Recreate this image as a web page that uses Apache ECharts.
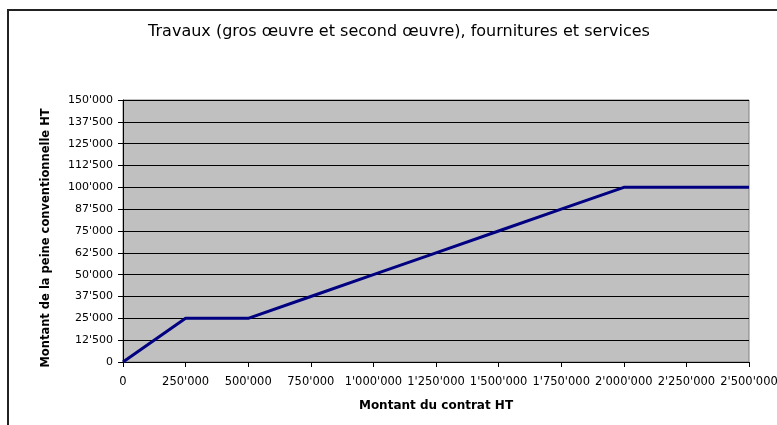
<!DOCTYPE html>
<html>
<head>
<meta charset="utf-8">
<script src="https://cdn.jsdelivr.net/npm/echarts@6/dist/echarts.min.js"></script>
<style>html,body{margin:0;padding:0;background:#fff;}#c{width:777px;height:425px;}</style>
</head>
<body>
<div id="c"></div>
<script>
var title = "Travaux (gros œuvre et second œuvre), fournitures et services";
var xName = "Montant du contrat HT";
var yName = "Montant de la peine conventionnelle HT";
var contractAmounts = [0, 250000, 500000, 750000, 1000000, 1250000, 1500000, 1750000, 2000000, 2250000, 2500000];
var penaltyAmounts  = [0, 25000, 25000, 37500, 50000, 62500, 75000, 87500, 100000, 100000, 100000];

function fmt(v){ return String(v).replace(/\B(?=(\d{3})+(?!\d))/g, "'"); }

var chart = echarts.init(document.getElementById('c'), null, {renderer:'canvas'});
var font = "'DejaVu Sans', Verdana, sans-serif";
chart.setOption({
  animation: false,
  backgroundColor: '#fff',
  textStyle: {fontFamily: font},
  title: {
    text: title, left: 394, top: 19, textAlign: 'center',
    textStyle: {fontFamily: font, fontSize: 16, fontWeight: 'normal', color: '#000'}
  },
  graphic: [{
    type: 'rect', shape: {x: 8, y: 10, width: 820, height: 480},
    style: {fill: 'none', stroke: '#222', lineWidth: 2}, z: 100
  }],
  grid: {
    left: 123, top: 100, right: 28, bottom: 63,
    outerBoundsMode: 'none', containLabel: false,
    show: true, backgroundColor: '#C0C0C0', borderColor: '#808080', borderWidth: 1
  },
  xAxis: {
    type: 'value', min: 0, max: 2500000, interval: 250000,
    name: xName, nameLocation: 'middle', nameGap: 38,
    nameTextStyle: {fontFamily: font, fontSize: 12, fontWeight: 'bold', color: '#000'},
    axisLine: {show: true, lineStyle: {color: '#000', width: 1}},
    axisTick: {show: true, length: 5, lineStyle: {color: '#000'}},
    axisLabel: {formatter: fmt, fontSize: 11.5, color: '#000', margin: 14, fontFamily: font, showMaxLabel: true, hideOverlap: false},
    splitLine: {show: false}
  },
  yAxis: {
    type: 'value', min: 0, max: 150000, interval: 12500,
    name: yName, nameLocation: 'middle', nameGap: 71,
    nameTextStyle: {fontFamily: font, fontSize: 11.5, fontWeight: 'bold', color: '#000', padding: [0, 14, 0, 0]},
    axisLine: {show: true, lineStyle: {color: '#000', width: 1}},
    axisTick: {show: true, length: 5, lineStyle: {color: '#000'}},
    axisLabel: {formatter: fmt, fontSize: 11, color: '#000', margin: 10, fontFamily: font},
    splitLine: {show: true, lineStyle: {color: '#000', width: 1}}
  },
  series: [{
    type: 'line',
    data: contractAmounts.map(function(x, i){ return [x, penaltyAmounts[i]]; }),
    showSymbol: false, symbol: 'none',
    lineStyle: {color: '#000080', width: 3},
    z: 5
  }]
});
</script>
</body>
</html>
